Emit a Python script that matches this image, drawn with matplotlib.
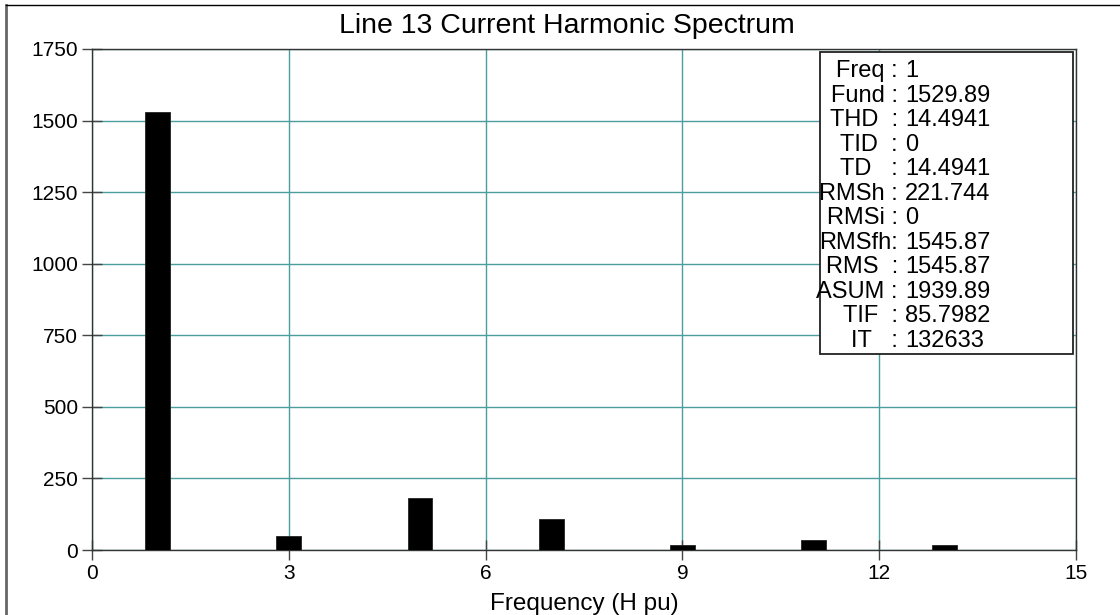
import matplotlib.pyplot as plt
from matplotlib.patches import Rectangle
from matplotlib.lines import Line2D

plt.rcParams['font.family'] = ['Liberation Sans', 'DejaVu Sans']

# harmonic order and magnitude
orders = [1, 3, 5, 7, 9, 11, 13]
magnitudes = [1529.89, 50, 181, 110, 17, 34, 18]

# summary block shown in the corner box
stat_keys = ['Freq :', 'Fund :', 'THD  :', 'TID  :', 'TD   :', 'RMSh :',
             'RMSi :', 'RMSfh:', 'RMS  :', 'ASUM :', 'TIF  :', 'IT   :']
stat_vals = ['1', '1529.89', '14.4941', '0', '14.4941', '221.744',
             '0', '1545.87', '1545.87', '1939.89', '85.7982', '132633']

W, H = 1120, 615
fig = plt.figure(figsize=(W / 100, H / 100), dpi=100)
ax = fig.add_axes([92 / W, 65 / H, 984 / W, 501 / H])

ax.bar(orders, magnitudes, width=0.38, color='black', edgecolor='#222222',
       linewidth=0.6, zorder=3)

ax.set_xlim(0, 15)
ax.set_ylim(0, 1750)
ax.set_xticks(range(0, 16, 3))
ax.set_yticks(range(0, 1751, 250))
ax.set_axisbelow(True)
ax.grid(True, color='#4a9e9e', linewidth=1.0)
for s in ax.spines.values():
    s.set_color('#333333')
    s.set_linewidth(1.0)
ax.tick_params(direction='inout', length=14, width=1, color='#444444',
               labelsize=15, pad=3)

ax.set_xlabel('Frequency (H pu)', fontsize=17.5, va='baseline')
ax.xaxis.set_label_coords(0.5, (5 - 65) / 501)

fig.text(567 / W, 1 - 33 / H, 'Line 13 Current Harmonic Spectrum',
         fontsize=20.5, ha='center', va='baseline')

# stats box
box = Rectangle((820 / W, 1 - 354 / H), (1073 - 820) / W, (354 - 52) / H,
                transform=fig.transFigure, facecolor='white',
                edgecolor='#222222', linewidth=1.3, zorder=5)
fig.patches.append(box)
for i, (k, v) in enumerate(zip(stat_keys, stat_vals)):
    yb = 1 - (77 + 24.55 * i) / H
    fig.text(898 / W, yb, k, fontsize=17, ha='right', va='baseline', zorder=6)
    fig.text(905 / W, yb, v, fontsize=17, ha='left', va='baseline', zorder=6)

# frame lines along the left and top edges
fig.lines.append(Line2D([6 / W, 6 / W], [0, 1 - 5 / H], transform=fig.transFigure,
                        color='#666666', linewidth=2))
fig.lines.append(Line2D([6 / W, 1], [1 - 5 / H, 1 - 5 / H], transform=fig.transFigure,
                        color='black', linewidth=1))

fig.savefig('out.png', dpi=100)
